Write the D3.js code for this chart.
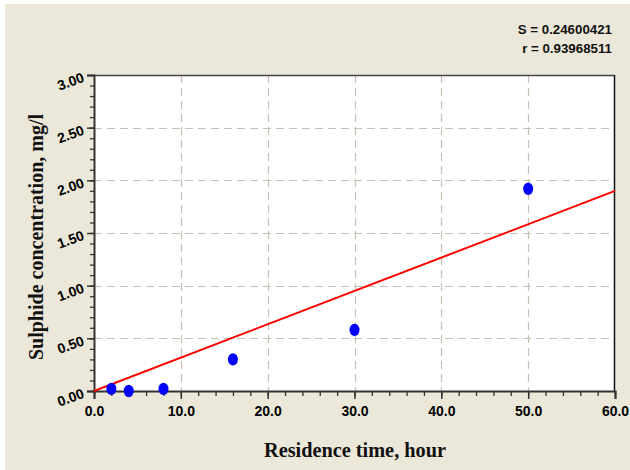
<!DOCTYPE html>
<html>
<head>
<meta charset="utf-8">
<script src="https://cdn.jsdelivr.net/npm/d3@7"></script>
<style>
  html, body { margin: 0; padding: 0; background: #ffffff; }
  svg { display: block; }
</style>
</head>
<body>
<svg id="chart" width="630" height="470"></svg>
<script>
// ---- data ----
const residenceTime = [2, 4, 8, 16, 30, 50];
const sulphide = [0.02, 0.0, 0.02, 0.30, 0.58, 1.92];
const fitX = [0, 60];
const fitY = [0, 1.90];
const xTicks = [0, 10, 20, 30, 40, 50, 60];
const yTicks = [0, 0.5, 1.0, 1.5, 2.0, 2.5, 3.0];
const statsLines = ["S = 0.24600421", "r = 0.93968511"];
const xTitle = "Residence time, hour";
const yTitle = "Sulphide concentration, mg/l";

// ---- layout ----
const W = 630, H = 470;
const L = 94, R = 615, T = 75, B = 391;
const svg = d3.select("#chart");

svg.append("rect").attr("x", 5).attr("y", 4).attr("width", W - 5).attr("height", H - 4)
  .attr("fill", "#ece8d9");

const x = d3.scaleLinear().domain([0, 60]).range([L, R]);
const y = d3.scaleLinear().domain([0, 3]).range([B, T]);

svg.append("rect").attr("x", L).attr("y", T).attr("width", R - L).attr("height", B - T)
  .attr("fill", "#ffffff");

// grid
const grid = svg.append("g").attr("stroke", "#c5c1b5").attr("stroke-width", 1.2)
  .attr("stroke-dasharray", "8,5");
grid.selectAll(".gx").data(xTicks.filter(d => d > 0 && d < 60)).join("line")
  .attr("x1", d => Math.round(x(d)) + 0.5).attr("x2", d => Math.round(x(d)) + 0.5)
  .attr("y1", T).attr("y2", B);
grid.selectAll(".gy").data(yTicks.filter(d => d > 0 && d < 3)).join("line")
  .attr("y1", d => Math.round(y(d)) + 0.5).attr("y2", d => Math.round(y(d)) + 0.5)
  .attr("x1", L).attr("x2", R);

// frame (top and right)
svg.append("line").attr("x1", L).attr("x2", R).attr("y1", T + 0.5).attr("y2", T + 0.5)
  .attr("stroke", "#444").attr("stroke-width", 1.5);
svg.append("line").attr("x1", R - 0.5).attr("x2", R - 0.5).attr("y1", T).attr("y2", B)
  .attr("stroke", "#111").attr("stroke-width", 1.5);

// minor ticks
const xMinor = d3.range(0, 60.01, 2);
const yMinor = d3.range(0, 3.001, 0.1);
const xAxisG = svg.append("g").attr("transform", `translate(0,${B})`)
  .call(d3.axisBottom(x).tickValues(xMinor).tickSize(5).tickFormat(""));
xAxisG.select(".domain").remove();
xAxisG.selectAll("line").attr("stroke", "#333").attr("stroke-width", 1.3);
const yAxisG = svg.append("g").attr("transform", `translate(${L},0)`)
  .call(d3.axisLeft(y).tickValues(yMinor).tickSize(4).tickFormat(""));
yAxisG.select(".domain").remove();
yAxisG.selectAll("line").attr("stroke", "#333").attr("stroke-width", 1.3);

// major ticks with labels
const xMajor = svg.append("g").attr("transform", `translate(0,${B})`)
  .call(d3.axisBottom(x).tickValues(xTicks).tickSize(8).tickPadding(7)
    .tickFormat(d3.format(".1f")));
xMajor.select(".domain").attr("stroke", "#333").attr("stroke-width", 2);
xMajor.selectAll("line").attr("stroke", "#333").attr("stroke-width", 1.5);
xMajor.selectAll("text").attr("font-family", "Liberation Sans, Arial, sans-serif")
  .attr("font-size", 14).attr("font-weight", "bold").attr("fill", "#000");

const yMajor = svg.append("g").attr("transform", `translate(${L},0)`)
  .call(d3.axisLeft(y).tickValues(yTicks).tickSize(7).tickPadding(0)
    .tickFormat(d3.format(".2f")));
yMajor.select(".domain").attr("stroke", "#333").attr("stroke-width", 2);
yMajor.selectAll("line").attr("stroke", "#333").attr("stroke-width", 1.5);
yMajor.selectAll("text").attr("font-family", "Liberation Sans, Arial, sans-serif")
  .attr("font-size", 14).attr("font-weight", "bold").attr("fill", "#000")
  .attr("text-anchor", "end")
  .attr("x", -11).attr("dy", "0.45em")
  .attr("transform", "rotate(-20,-11,0)");

// regression line
svg.append("line")
  .attr("x1", x(fitX[0])).attr("y1", y(fitY[0]))
  .attr("x2", x(fitX[1])).attr("y2", y(fitY[1]))
  .attr("stroke", "#ff0000").attr("stroke-width", 2);

// points
svg.selectAll(".pt").data(residenceTime.map((t, i) => [t, sulphide[i]])).join("ellipse")
  .attr("cx", d => x(d[0])).attr("cy", d => y(d[1]))
  .attr("rx", 5).attr("ry", 6.2).attr("fill", "#0000ff");

// stats text
svg.selectAll(".st").data(statsLines).join("text")
  .attr("x", 612).attr("y", (d, i) => 33.5 + i * 19)
  .attr("text-anchor", "end")
  .attr("font-family", "Liberation Sans, Arial, sans-serif")
  .attr("font-size", 13.3).attr("font-weight", "bold").attr("fill", "#111")
  .text(d => d);

// axis titles
svg.append("text").attr("x", 355).attr("y", 457).attr("text-anchor", "middle")
  .attr("font-family", "Liberation Serif, Times New Roman, serif")
  .attr("font-size", 20.3).attr("font-weight", "bold").attr("fill", "#111").text(xTitle);
svg.append("text").attr("transform", `translate(43,237) rotate(-90)`)
  .attr("text-anchor", "middle")
  .attr("font-family", "Liberation Serif, Times New Roman, serif")
  .attr("font-size", 20).attr("font-weight", "bold").attr("fill", "#111").text(yTitle);
</script>
</body>
</html>
